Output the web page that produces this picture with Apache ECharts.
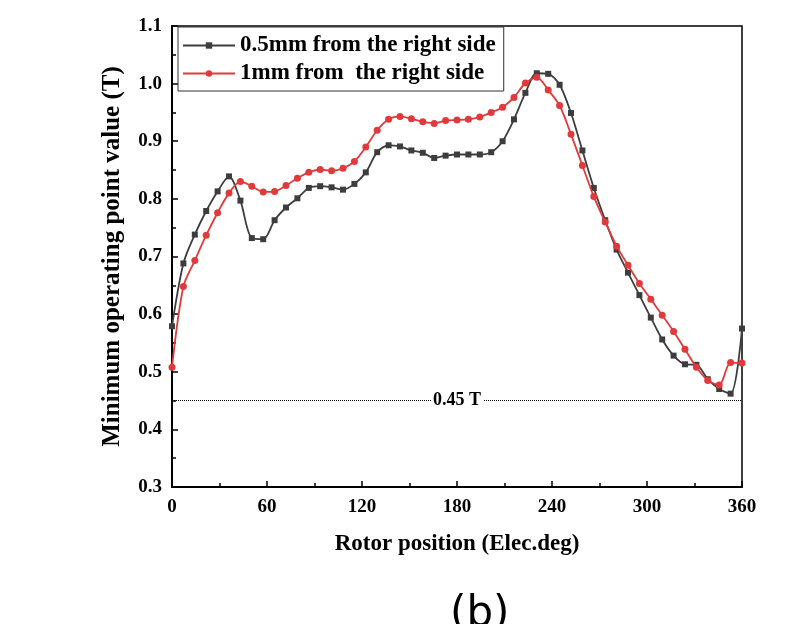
<!DOCTYPE html>
<html>
<head>
    <meta charset="UTF-8">
    <title></title>
    <script type="text/javascript" src="https://cdn.jsdelivr.net/npm/echarts@6/dist/echarts.min.js"></script>
    <style>
        html, body { margin: 0; padding: 0; background: #fff; }
    </style>
</head>
<body>
<div id="chart" style="width: 794px;height:624px;"></div>
<script>
    // rotor position (Elec.deg)
    var positions = [0, 7.2, 14.4, 21.6, 28.8, 36, 43.2, 50.4, 57.6, 64.8,
        72, 79.2, 86.4, 93.6, 100.8, 108, 115.2, 122.4, 129.6, 136.8,
        144, 151.2, 158.4, 165.6, 172.8, 180, 187.2, 194.4, 201.6, 208.8,
        216, 223.2, 230.4, 237.6, 244.8, 252, 259.2, 266.4, 273.6, 280.8,
        288, 295.2, 302.4, 309.6, 316.8, 324, 331.2, 338.4, 345.6, 352.8, 360];
    // 0.5mm from the right side
    var side05 = [0.579, 0.688, 0.738, 0.779, 0.813, 0.839, 0.797, 0.732, 0.730, 0.763,
        0.785, 0.801, 0.819, 0.822, 0.820, 0.816, 0.826, 0.846, 0.881, 0.893,
        0.891, 0.884, 0.880, 0.871, 0.875, 0.877, 0.877, 0.877, 0.881, 0.900,
        0.938, 0.984, 1.018, 1.017, 0.998, 0.949, 0.884, 0.819, 0.763, 0.712,
        0.672, 0.633, 0.594, 0.556, 0.528, 0.513, 0.512, 0.487, 0.470, 0.462, 0.575];
    // 1mm from the right side
    var side1 = [0.508, 0.648, 0.693, 0.737, 0.776, 0.810, 0.830, 0.822, 0.812, 0.813,
        0.823, 0.836, 0.846, 0.851, 0.849, 0.853, 0.865, 0.890, 0.919, 0.938,
        0.943, 0.939, 0.934, 0.931, 0.936, 0.937, 0.938, 0.942, 0.950, 0.959,
        0.976, 1.001, 1.011, 0.989, 0.962, 0.912, 0.858, 0.804, 0.760, 0.718,
        0.685, 0.653, 0.626, 0.598, 0.570, 0.539, 0.508, 0.485, 0.477, 0.516, 0.515];
    var seriesNames = ['0.5mm from the right side', '1mm from  the right side'];
    var limitValue = 0.45;

    function pairs(xs, ys) {
        var out = [];
        for (var i = 0; i < xs.length; i++) {
            out.push([xs[i], ys[i]]);
        }
        return out;
    }

    var serif = '"Liberation Serif", "Times New Roman", serif';
    var myChart = echarts.init(document.getElementById('chart'));
    myChart.setOption({
        animation: false,
        grid: {
            left: 172,
            right: 52,
            top: 26,
            bottom: 137,
            show: true,
            borderColor: '#000',
            borderWidth: 1.5
        },
        legend: {
            orient: 'vertical',
            left: 178,
            top: 27,
            padding: [7, 8, 6, 4],
            itemGap: 5,
            itemWidth: 52,
            itemHeight: 8,
            borderColor: '#333',
            borderWidth: 1,
            backgroundColor: '#fff',
            textStyle: {
                fontFamily: serif,
                fontWeight: 'bold',
                fontSize: 23,
                color: '#000'
            },
            data: seriesNames
        },
        xAxis: {
            type: 'value',
            min: 0,
            max: 360,
            interval: 60,
            name: 'Rotor position (Elec.deg)',
            nameLocation: 'middle',
            nameGap: 46,
            nameTextStyle: {
                fontFamily: serif,
                fontWeight: 'bold',
                fontSize: 23,
                color: '#000'
            },
            axisLine: {lineStyle: {color: '#000', width: 2}},
            axisTick: {inside: true, length: 6, lineStyle: {width: 1.5, color: '#000'}},
            minorTick: {show: true, splitNumber: 2, length: 4, lineStyle: {width: 1.5, color: '#000'}},
            axisLabel: {
                margin: 11,
                fontFamily: serif,
                fontWeight: 'bold',
                fontSize: 19,
                color: '#000'
            },
            splitLine: {show: false}
        },
        yAxis: {
            type: 'value',
            min: 0.3,
            max: 1.1,
            interval: 0.1,
            name: 'Minimum operating point value (T)',
            nameLocation: 'middle',
            nameGap: 47,
            nameTextStyle: {
                fontFamily: serif,
                fontWeight: 'bold',
                fontSize: 25,
                color: '#000'
            },
            axisLine: {lineStyle: {color: '#000', width: 2}},
            axisTick: {inside: true, length: 6, lineStyle: {width: 1.5, color: '#000'}},
            minorTick: {show: true, splitNumber: 2, length: 4, lineStyle: {width: 1.5, color: '#000'}},
            axisLabel: {
                margin: 10,
                fontFamily: serif,
                fontWeight: 'bold',
                fontSize: 19,
                color: '#000',
                formatter: function (v) { return v.toFixed(1); }
            },
            splitLine: {show: false}
        },
        series: [{
            name: seriesNames[0],
            type: 'line',
            smooth: 0.3,
            symbol: 'rect',
            symbolSize: 6,
            itemStyle: {color: '#3d3d3d'},
            lineStyle: {color: '#3d3d3d', width: 1.8},
            data: pairs(positions, side05),
            z: 3,
            markLine: {
                silent: true,
                symbol: 'none',
                lineStyle: {type: 'dotted', color: '#000', width: 1},
                label: {
                    position: 'middle',
                    distance: -9,
                    formatter: '0.45 T',
                    fontFamily: serif,
                    fontWeight: 'bold',
                    fontSize: 18,
                    color: '#000',
                    backgroundColor: '#fff',
                    padding: [0, 2]
                },
                data: [{yAxis: limitValue}]
            }
        }, {
            name: seriesNames[1],
            type: 'line',
            smooth: 0.3,
            symbol: 'circle',
            symbolSize: 7,
            itemStyle: {color: '#e03a3c'},
            lineStyle: {color: '#e03a3c', width: 1.8},
            data: pairs(positions, side1),
            z: 4
        }],
        graphic: [{
            type: 'text',
            left: 450,
            top: 594,
            style: {
                text: '(b)',
                fontFamily: '"DejaVu Sans", sans-serif',
                fontSize: 42,
                fill: '#000'
            }
        }]
    });
</script>
</body>
</html>
